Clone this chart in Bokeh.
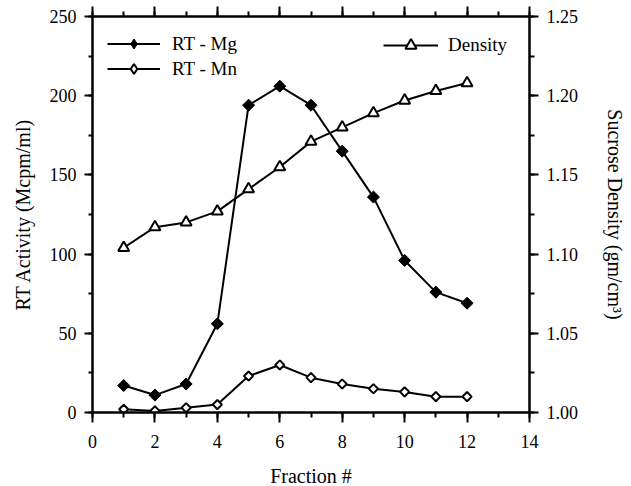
import numpy as np
from bokeh.plotting import figure
from bokeh.models import (Range1d, LinearAxis, FixedTicker, Legend, LegendItem,
                          NumeralTickFormatter)
from bokeh.embed import file_html
from bokeh.resources import INLINE

# ---- data ----
fraction = [1, 2, 3, 4, 5, 6, 7, 8, 9, 10, 11, 12]
rt_mg = [17, 11, 18, 56, 194, 206, 194, 165, 136, 96, 76, 69]
rt_mn = [2, 1, 3, 5, 23, 30, 22, 18, 15, 13, 10, 10]
density = [1.104, 1.117, 1.120, 1.127, 1.141, 1.155, 1.171, 1.180, 1.189, 1.197, 1.203, 1.208]

x_ticks = [0, 2, 4, 6, 8, 10, 12, 14]
x_minor = list(range(0, 15))
y_ticks = [0, 50, 100, 150, 200, 250]
y_minor = [0, 25, 50, 75, 100, 125, 150, 175, 200, 225, 250]
d_ticks = [1.00, 1.05, 1.10, 1.15, 1.20, 1.25]
d_minor = [1.00, 1.025, 1.05, 1.075, 1.10, 1.125, 1.15, 1.175, 1.20, 1.225, 1.25]

FONT = "Liberation Serif"

p = figure(frame_width=437, frame_height=396, x_range=Range1d(0, 14), y_range=Range1d(0, 250),
           output_backend="svg", toolbar_location=None,
           min_border_left=92, min_border_right=100, min_border_top=16, min_border_bottom=72)
p.extra_y_ranges = {"dens": Range1d(1.0, 1.25)}
p.grid.visible = False
p.outline_line_color = None
p.background_fill_color = "white"


def style(ax, tick_out=9, minor_out=5):
    ax.axis_line_width = 2.5
    ax.axis_line_color = "black"
    ax.major_tick_line_color = "black"
    ax.minor_tick_line_color = "black"
    ax.major_tick_line_width = 2
    ax.minor_tick_line_width = 2
    ax.major_tick_out = tick_out
    ax.major_tick_in = 0
    ax.minor_tick_out = minor_out
    ax.minor_tick_in = 0
    ax.major_label_text_font = FONT
    ax.major_label_text_font_size = "18px"
    ax.major_label_text_color = "black"
    ax.axis_label_text_font = FONT
    ax.axis_label_text_font_size = "20px"
    ax.axis_label_text_font_style = "normal"
    ax.axis_label_text_color = "black"


xb = p.xaxis[0]
xb.ticker = FixedTicker(ticks=x_ticks, minor_ticks=x_minor)
xb.axis_label = "Fraction #"
style(xb, 10, 5)
xb.major_label_standoff = 12
xb.axis_label_standoff = 14

yl = p.yaxis[0]
yl.ticker = FixedTicker(ticks=y_ticks, minor_ticks=y_minor)
yl.axis_label = "RT Activity (Mcpm/ml)"
style(yl, 8, 4)
yl.major_label_standoff = 8
yl.axis_label_standoff = 13

xt = LinearAxis(ticker=FixedTicker(ticks=x_ticks, minor_ticks=x_minor),
                major_label_overrides={t: "" for t in x_ticks})
style(xt, 10, 5)
xt.major_label_text_font_size = "0px"
xt.major_label_standoff = 0
p.add_layout(xt, "above")

yr = LinearAxis(y_range_name="dens", ticker=FixedTicker(ticks=d_ticks, minor_ticks=d_minor),
                formatter=NumeralTickFormatter(format="0.00"),
                axis_label="Sucrose Density (gm/cm³)")
style(yr, 9, 5)
yr.major_label_standoff = 8
yr.axis_label_standoff = 23
p.add_layout(yr, "right")

# ---- series ----
dl = p.line(fraction, density, y_range_name="dens", line_color="black", line_width=2)
dm = p.scatter(fraction, density, y_range_name="dens", marker="triangle", size=11,
               fill_color="white", line_color="black", line_width=2)

mgl = p.line(fraction, rt_mg, line_color="black", line_width=2)
# diamond-shaped markers used for the legend swatch (hidden beneath the plotted markers)
mgk = p.scatter(fraction, rt_mg, marker="diamond", size=9,
                fill_color="black", line_color="black", line_width=1)
mgm = p.scatter(fraction, rt_mg, marker="square", angle=np.pi / 4, size=8.5,
                fill_color="black", line_color="black", line_width=1)

mnl = p.line(fraction, rt_mn, line_color="black", line_width=2)
mnk = p.scatter(fraction, rt_mn, marker="diamond", size=7,
                fill_color="white", line_color="black", line_width=2)
mnm = p.scatter(fraction, rt_mn, marker="square", angle=np.pi / 4, size=6.5,
                fill_color="white", line_color="black", line_width=2)

leg1 = Legend(items=[LegendItem(label="RT - Mg", renderers=[mgl, mgk]),
                     LegendItem(label="RT - Mn", renderers=[mnl, mnk])],
              location=(15, 331), margin=0, padding=0, spacing=0,
              glyph_width=53, glyph_height=25, label_height=25, label_standoff=12,
              label_text_font=FONT, label_text_font_size="19px", label_text_color="black",
              border_line_alpha=0, background_fill_alpha=0)
leg2 = Legend(items=[LegendItem(label="Density", renderers=[dl, dm])],
              location=(291, 353), margin=0, padding=0,
              glyph_width=55, glyph_height=28, label_height=28, label_standoff=10,
              label_text_font=FONT, label_text_font_size="19px", label_text_color="black",
              border_line_alpha=0, background_fill_alpha=0)
p.add_layout(leg1)
p.add_layout(leg2)

open("out.html", "w").write(file_html(p, INLINE))
